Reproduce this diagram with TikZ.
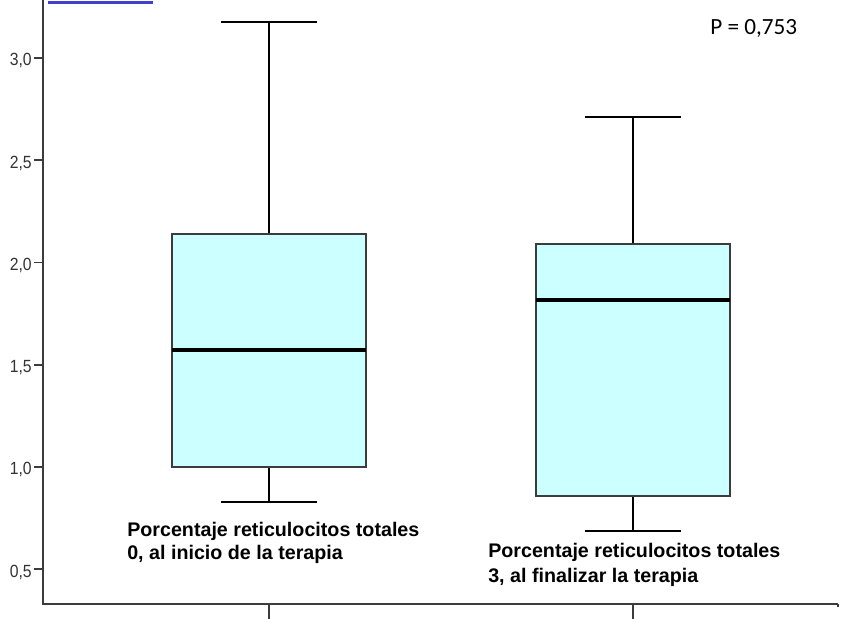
\documentclass[tikz,border=0pt]{standalone}
\usepackage{fontspec}
\setmainfont{Liberation Sans}
\newfontfamily\calibri{Carlito}
\definecolor{ciano}{RGB}{204,255,255}
\definecolor{azul}{RGB}{64,64,208}
\definecolor{eixo}{RGB}{60,60,60}

\begin{document}
\begin{tikzpicture}[x=0.025cm,y=-0.025cm,
  caixa/.style={draw=eixo,fill=ciano,line width=1pt},
  bigode/.style={line width=1.4pt},
  mediana/.style={line width=2.4pt},
  rotulo/.style={anchor=north west,inner sep=0pt,align=left,font=\bfseries\fontsize{14}{16}\selectfont}]
\useasboundingbox (0,0) rectangle (851,619);
% Eixos
\draw[line width=1.2pt,eixo] (43,0) -- (43,604) -- (838,604);
\draw[line width=2.2pt,azul] (48,2.6) -- (153,2.6);
\foreach \v/\t in {3.0/{3,0},2.5/{2,5},2.0/{2,0},1.5/{1,5},1.0/{1,0},0.5/{0,5}}
    \draw[line width=1.2pt,eixo] (43,{58+(3-\v)*204.5}) -- ++(-9,0)
        node[left,inner sep=1pt,yshift=-2pt,font=\fontsize{11.2}{13}\selectfont,text=black!80] (y\v) {\scalebox{1}[1.12]{\t}};
\foreach \x in {269,633}
    \draw[line width=1.2pt,eixo] (\x,604) -- (\x,619);
\draw[line width=1pt,eixo] (838,604) -- (838,607);
% Caixas
\foreach \xc/\lo/\qa/\me/\qb/\hi in {269/0.829/1.0/1.572/2.139/3.176, 633/0.687/0.858/1.817/2.090/2.711} {
    \pgfmathsetmacro\ylo{58+(3-\lo)*204.5}
    \pgfmathsetmacro\yqa{58+(3-\qa)*204.5}
    \pgfmathsetmacro\yme{58+(3-\me)*204.5}
    \pgfmathsetmacro\yqb{58+(3-\qb)*204.5}
    \pgfmathsetmacro\yhi{58+(3-\hi)*204.5}
    \draw[bigode] (\xc,\yhi) -- (\xc,\yqb) (\xc,\yqa) -- (\xc,\ylo);
    \draw[bigode] (\xc-48,\yhi) -- (\xc+48,\yhi) (\xc-48,\ylo) -- (\xc+48,\ylo);
    \draw[caixa] (\xc-97,\yqa) rectangle (\xc+97,\yqb);
    \draw[mediana] (\xc-97,\yme) -- (\xc+97,\yme);
}
% Rótulos
\node[rotulo] (rot1) at (127,522) {Porcentaje reticulocitos totales\\0, al inicio de la terapia};
\node[rotulo,font=\bfseries\fontsize{14}{18}\selectfont] (rot2) at (488,543) {Porcentaje reticulocitos totales\\3, al finalizar la terapia};
\node[anchor=base west,inner sep=0pt,font=\calibri\fontsize{16.5}{18}\selectfont] (pval) at (710,34) {P = 0,753};
\end{tikzpicture}
\end{document}
